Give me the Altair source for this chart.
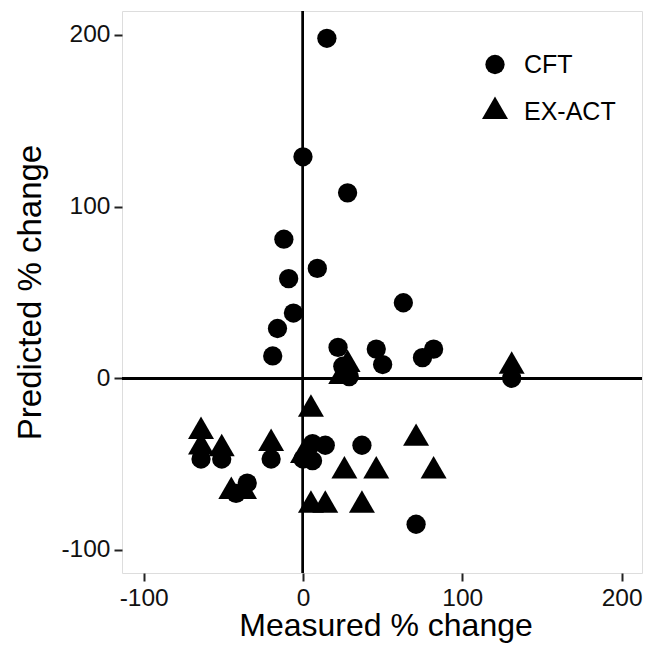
import altair as alt
import pandas as pd

# CFT (circles)
cft_x = [15, 0, 28, -12, -9, 9, -6, -16, -19, 63, 22, 25, 29, 46, 50, 75, 82, 131, 71, 37,
         -64, -51, -20, 0, 6, 6, 14, -35, -42]
cft_y = [198, 129, 108, 81, 58, 64, 38, 29, 13, 44, 18, 7, 1, 17, 8, 12, 17, 0, -85, -39,
         -47, -47, -47, -47, -38, -48, -39, -61, -67]
# EX-ACT (triangles)
ex_x = [131, 28, 24, -64, -64, -51, -20, 0, 5, 26, 46, 71, 82, 37, 5, 14, -45, -37]
ex_y = [7, 8, 1, -31, -40, -41, -38, -45, -18, -54, -54, -35, -54, -74, -74, -74, -66, -66]

groups = ["CFT", "EX-ACT"]
ticks = [-100, 0, 100, 200]

df = pd.concat([
    pd.DataFrame({"x": cft_x, "y": cft_y, "g": groups[0]}),
    pd.DataFrame({"x": ex_x, "y": ex_y, "g": groups[1]}),
], ignore_index=True)

FONT = "Liberation Sans"
tri = "M0,-1.554L1.347,0.777L-1.347,0.777Z"

xs = alt.Scale(domain=[-113.6, 212.8], nice=False, zero=False)
ys = alt.Scale(domain=[-113.4, 213.9], nice=False, zero=False)

xaxis = alt.Axis(values=ticks, title="Measured % change", grid=False, domain=False,
                 labelExpr="'' + datum.value",
                 tickSize=8, tickWidth=2, tickColor="#222", labelPadding=5,
                 labelFontSize=24.5, labelColor="#111", labelFont=FONT,
                 titleFontSize=32, titleFont=FONT, titleFontWeight="normal", titleColor="#000",
                 titleBaseline="alphabetic", titleY=62, titleX=263.5)
yaxis = alt.Axis(values=ticks, title="Predicted % change", grid=False, domain=False,
                 labelExpr="'' + datum.value",
                 tickSize=8, tickWidth=2, tickColor="#222", labelPadding=4,
                 labelFontSize=24.5, labelColor="#111", labelFont=FONT,
                 titleFontSize=33, titleFont=FONT, titleFontWeight="normal", titleColor="#000",
                 titleBaseline="alphabetic", titleX=-82, titleY=281, titleAngle=-90)

points = alt.Chart(df).mark_point(filled=True, opacity=1, color="black", size=372).encode(
    x=alt.X("x:Q", scale=xs, axis=xaxis),
    y=alt.Y("y:Q", scale=ys, axis=yaxis),
    shape=alt.Shape("g:N", scale=alt.Scale(domain=groups, range=["circle", tri]),
                    legend=alt.Legend(title=None, orient="none", legendX=360.5, legendY=41,
                                      labelFontSize=25, labelFont=FONT, labelColor="#000",
                                      symbolSize=372, symbolFillColor="black",
                                      symbolStrokeColor="black", symbolOpacity=1,
                                      labelOffset=16.5, rowPadding=15, padding=0)),
)

vline = alt.Chart(df).mark_rule(color="black", strokeWidth=2).encode(x=alt.datum(0, scale=xs))
hline = alt.Chart(df).mark_rule(color="black", strokeWidth=2).encode(y=alt.datum(0, scale=ys))

chart = alt.layer(vline, hline, points).properties(
    width=520, height=562,
    autosize=alt.AutoSizeParams(type="none"),
    padding={"left": 114, "top": 3, "right": 1, "bottom": 71},
).configure_view(stroke="#222", strokeWidth=2).configure(background="white")

chart.save("out.html", embed_options={"renderer": "svg", "actions": False})
